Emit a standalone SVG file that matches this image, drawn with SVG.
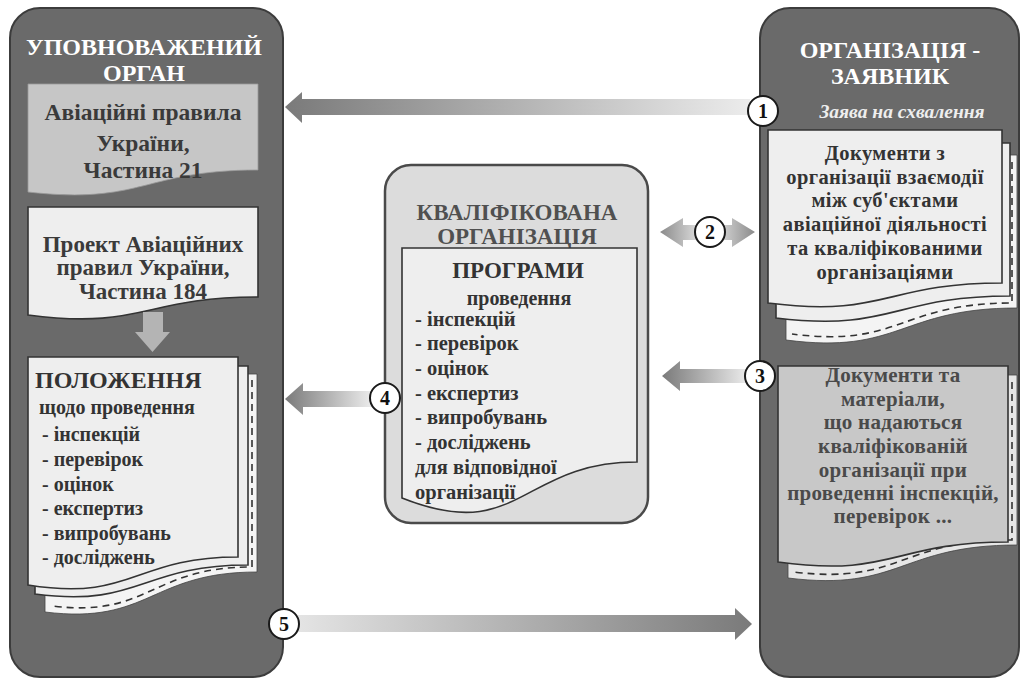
<svg xmlns="http://www.w3.org/2000/svg" width="1024" height="685" viewBox="0 0 1024 685" font-family="'Liberation Serif', 'DejaVu Serif', serif">
<defs>
<linearGradient id="gDarkLeft" x1="0" y1="0" x2="1" y2="0"><stop offset="0" stop-color="#7a7a7a"/><stop offset="1" stop-color="#ececec"/></linearGradient>
<linearGradient id="gDarkRight" x1="0" y1="0" x2="1" y2="0"><stop offset="0" stop-color="#e4e4e4"/><stop offset="1" stop-color="#7a7a7a"/></linearGradient>
<linearGradient id="gBoth" x1="0" y1="0" x2="1" y2="0"><stop offset="0" stop-color="#8a8a8a"/><stop offset="0.5" stop-color="#f0f0f0"/><stop offset="1" stop-color="#8a8a8a"/></linearGradient>
<style>
.panel{fill:#6a6a6a;stroke:#3c3c3c;stroke-width:2}
.cpanel{fill:#dcdcdc;stroke:#4a4a4a;stroke-width:2.5}
.page{fill:#eeeeee;stroke:#333;stroke-width:1.6}
.pageg{fill:#c8c8c8;stroke:#333;stroke-width:1.6}
.back{fill:#f4f4f4;stroke:#444;stroke-width:0.8}
.dash{fill:none;stroke:#333;stroke-width:1.6;stroke-dasharray:7,5}
text{font-family:'Liberation Serif','DejaVu Serif',serif;font-weight:bold}
.title{fill:#ffffff;font-size:24px;text-anchor:middle}
.t22{fill:#3a3a3a;font-size:23px;text-anchor:middle}
.t18{fill:#333;font-size:20.5px}
.lst{fill:#333;font-size:20px}
.clst{fill:#333;font-size:20.5px}
.num{fill:#111;font-size:20px;text-anchor:middle}
.circ{fill:#fff;stroke:#1a1a1a;stroke-width:2}
</style>
</defs>
<rect width="1024" height="685" fill="#ffffff"/>

<g id="authority">
<rect class="panel" x="10" y="8" width="273" height="669" rx="30"/>
<text class="title" x="144" y="55">УПОВНОВАЖЕНИЙ</text>
<text class="title" x="144" y="81">ОРГАН</text>
</g>

<g id="rules21">
<path d="M28,84 H258 V170 C143,170 143,205 28,192 Z" fill="#c6c6c6" stroke="#9a9a9a" stroke-width="0.8"/>
<text class="t22" x="143" y="120" style="font-size:23.5px">Авіаційні правила</text>
<text class="t22" x="143" y="151" style="font-size:23.5px">України,</text>
<text class="t22" x="143" y="178" style="font-size:23.5px">Частина 21</text>
</g>

<g id="rules184">
<path class="page" d="M28,207 H258 V297 C143,297 143,330 28,315 Z"/>
<text class="t22" x="143" y="252">Проект Авіаційних</text>
<text class="t22" x="143" y="275">правил України,</text>
<text class="t22" x="143" y="299">Частина 184</text>
<path d="M143,312 H163 V332 H170 L152.5,352 L135,332 H143 Z" fill="#b4b4b4"/>
</g>

<g id="regulations">
<path class="back" d="M45,374 H257 V572 C150,572 150,625 45,612 Z"/>
<path class="dash" d="M252,380 V567 C150,567 150,618 52,606"/>
<path class="page" d="M35,366 H248 V565 C140,565 140,608 35,594 Z"/>
<path class="page" d="M28,357 H238 V557 C133,557 133,602 28,585 Z"/>
<text x="35" y="388" fill="#333" font-size="24px">ПОЛОЖЕННЯ</text>
<text class="lst" x="39" y="414">щодо проведення</text>
<text class="lst" x="42" y="441">- інспекцій</text>
<text class="lst" x="42" y="466">- перевірок</text>
<text class="lst" x="42" y="491">- оцінок</text>
<text class="lst" x="42" y="515">- експертиз</text>
<text class="lst" x="42" y="540">- випробувань</text>
<text class="lst" x="42" y="564">- досліджень</text>
</g>

<g id="qualified">
<rect class="cpanel" x="385" y="165" width="263" height="358" rx="26"/>
<text x="517" y="220" fill="#505050" font-size="23px" text-anchor="middle">КВАЛІФІКОВАНА</text>
<text x="517" y="244" fill="#505050" font-size="23px" text-anchor="middle">ОРГАНІЗАЦІЯ</text>
<path class="page" d="M402,248 H637 V462 C520,462 520,545 402,498 Z"/>
<text x="518" y="278" fill="#333" font-size="23px" text-anchor="middle">ПРОГРАМИ</text>
<text x="519" y="305" fill="#333" font-size="20px" text-anchor="middle">проведення</text>
<text class="clst" x="415" y="326">- інспекцій</text>
<text class="clst" x="415" y="350">- перевірок</text>
<text class="clst" x="415" y="375">- оцінок</text>
<text class="clst" x="415" y="400">- експертиз</text>
<text class="clst" x="415" y="424">- випробувань</text>
<text class="clst" x="415" y="449">- досліджень</text>
<text class="clst" x="415" y="474">для відповідної</text>
<text class="clst" x="415" y="499">організації</text>
</g>

<g id="applicant">
<rect class="panel" x="760" y="8" width="259" height="669" rx="30"/>
<text class="title" x="890" y="58">ОРГАНІЗАЦІЯ -</text>
<text class="title" x="890" y="84">ЗАЯВНИК</text>
<text x="902" y="118" fill="#eeeeee" font-size="19.5px" font-style="italic" font-weight="normal" text-anchor="middle">Заява на схвалення</text>
</g>

<g id="interaction-docs">
<path class="back" d="M786,155 H1017 V308 C900,308 900,355 786,340 Z"/>
<path class="dash" d="M1012,162 V303 C900,303 900,348 792,334"/>
<path class="page" d="M776,143 H1010 V296 C893,296 893,332 776,318 Z"/>
<path class="page" d="M768,130 H1002 V283 C885,283 885,318 768,303 Z"/>
<g class="t18" text-anchor="middle" letter-spacing="0.4">
<text x="885" y="160">Документи з</text>
<text x="885" y="184">організації взаємодії</text>
<text x="885" y="207">між суб'єктами</text>
<text x="885" y="231">авіаційної діяльності</text>
<text x="885" y="255">та кваліфікованими</text>
<text x="885" y="279">організаціями</text>
</g>
</g>

<g id="materials">
<path class="back" d="M788,375 H1017 V545 C900,545 900,592 788,578 Z" style="fill:#e6e6e6"/>
<path class="dash" d="M1012,382 V540 C900,540 900,585 794,572"/>
<path class="pageg" d="M778,366 H1008 V542 C893,542 893,578 778,562 Z"/>
<g font-size="21px" fill="#4a4a4a" text-anchor="middle" letter-spacing="0.3">
<text x="893" y="382">Документи та</text>
<text x="893" y="406">матеріали,</text>
<text x="893" y="429">що надаються</text>
<text x="893" y="453">кваліфікованій</text>
<text x="893" y="477">організації при</text>
<text x="893" y="500">проведенні інспекцій,</text>
<text x="893" y="523">перевірок ...</text>
</g>
</g>

<g id="connectors">
<path d="M285,107 L302,92 V99 H750 V115 H302 V123 Z" fill="url(#gDarkLeft)"/>
<path d="M660,232 L683,218 V225 H732 V218 L755,232 L732,247 V240 H683 V247 Z" fill="url(#gBoth)"/>
<path d="M662,376 L680,361 V369 H748 V383 H680 V391 Z" fill="url(#gDarkLeft)"/>
<path d="M285,399 L303,383 V391 H372 V407 H303 V415 Z" fill="url(#gDarkLeft)"/>
<path d="M298,615 H735 V608 L752,624 L735,640 V632 H298 Z" fill="url(#gDarkRight)"/>
<circle class="circ" cx="763" cy="111" r="15"/>
<text class="num" x="763" y="118">1</text>
<circle class="circ" cx="710" cy="232" r="15"/>
<text class="num" x="710" y="239">2</text>
<circle class="circ" cx="760" cy="376" r="15"/>
<text class="num" x="760" y="383">3</text>
<circle class="circ" cx="385" cy="398" r="15"/>
<text class="num" x="385" y="405">4</text>
<circle class="circ" cx="284" cy="624" r="15"/>
<text class="num" x="284" y="631">5</text>
</g>
</svg>
